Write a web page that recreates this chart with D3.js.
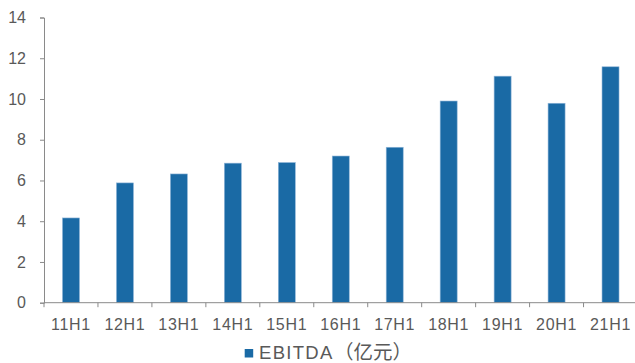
<!DOCTYPE html>
<html>
<head>
<meta charset="utf-8">
<script src="https://cdn.jsdelivr.net/npm/d3@7"></script>
<style>
  html, body { margin: 0; padding: 0; background: #fff; }
  svg { display: block; }
</style>
</head>
<body>
<svg id="chart" width="635" height="363"></svg>
<script>
// Half-year EBITDA, 100 million yuan
const categories = ["11H1", "12H1", "13H1", "14H1", "15H1", "16H1", "17H1", "18H1", "19H1", "20H1", "21H1"];
const ebitda = [4.16, 5.88, 6.32, 6.85, 6.88, 7.2, 7.63, 9.9, 11.12, 9.79, 11.58];
const yTicks = [0, 2, 4, 6, 8, 10, 12, 14];
const legendName = "EBITDA";
const legendUnit = "（亿元）";

const svg = d3.select("#chart");
const plotLeft = 44, plotRight = 637.5, plotTop = 17.5, plotBottom = 302.7;
const axisColor = "#8a8a8a";
const textColor = "#595959";
const barColor = "#1a6aa5";
const font = "'Liberation Sans', Arial, 'Noto Sans CJK SC', sans-serif";

const x = d3.scaleBand().domain(categories).range([plotLeft, plotRight]).padding(0);
const y = d3.scaleLinear().domain([0, 14]).range([plotBottom, plotTop]);
const barW = x.bandwidth() * 0.315;

// bars
svg.append("g").selectAll("rect")
  .data(categories.map((c, i) => ({ c, v: ebitda[i] })))
  .join("rect")
  .attr("x", d => x(d.c) + (x.bandwidth() - barW) / 2)
  .attr("y", d => y(d.v))
  .attr("width", barW)
  .attr("height", d => y(0) - y(d.v))
  .attr("fill", barColor)
  .attr("stroke", "#8fb5d8")
  .attr("stroke-width", 0.6);

// y axis
const yAxis = svg.append("g")
  .attr("transform", `translate(${plotLeft},0)`)
  .call(d3.axisLeft(y).tickValues(yTicks).tickSize(4).tickPadding(14).tickFormat(d3.format("d")));
yAxis.select(".domain").attr("stroke", axisColor).attr("stroke-width", 1);
yAxis.selectAll(".tick line").attr("stroke", axisColor);
yAxis.selectAll(".tick text")
  .attr("fill", textColor)
  .style("font-family", font)
  .style("font-size", "16px");

// x axis: ticks sit on category boundaries
const xAxis = svg.append("g").attr("transform", `translate(0,${plotBottom})`);
xAxis.append("line")
  .attr("x1", plotLeft).attr("x2", plotRight)
  .attr("y1", 0).attr("y2", 0)
  .attr("stroke", axisColor).attr("stroke-width", 1);
const bounds = categories.map(c => x(c)).concat([x(categories[categories.length - 1]) + x.bandwidth()]);
xAxis.selectAll("line.tk")
  .data(bounds)
  .join("line")
  .attr("class", "tk")
  .attr("x1", d => d).attr("x2", d => d)
  .attr("y1", 0).attr("y2", 4.5)
  .attr("stroke", axisColor).attr("stroke-width", 1);
xAxis.selectAll("text")
  .data(categories)
  .join("text")
  .attr("x", d => x(d) + x.bandwidth() / 2)
  .attr("y", 27.8)
  .attr("text-anchor", "middle")
  .attr("fill", textColor)
  .style("font-family", font)
  .style("font-size", "16px")
  .style("letter-spacing", "0.7px")
  .text(d => d);

// legend
const lg = svg.append("g");
lg.append("rect")
  .attr("x", 244.7).attr("y", 349)
  .attr("width", 8.5).attr("height", 8.5)
  .attr("fill", barColor);
lg.append("text")
  .attr("x", 259).attr("y", 358.8)
  .attr("fill", textColor)
  .style("font-family", font)
  .style("font-size", "18.5px")
  .style("letter-spacing", "1.3px")
  .text(legendName);
lg.append("text")
  .attr("x", 334).attr("y", 358.5)
  .attr("fill", textColor)
  .style("font-family", font)
  .style("font-size", "19.5px")
  .text(legendUnit);
</script>
</body>
</html>
